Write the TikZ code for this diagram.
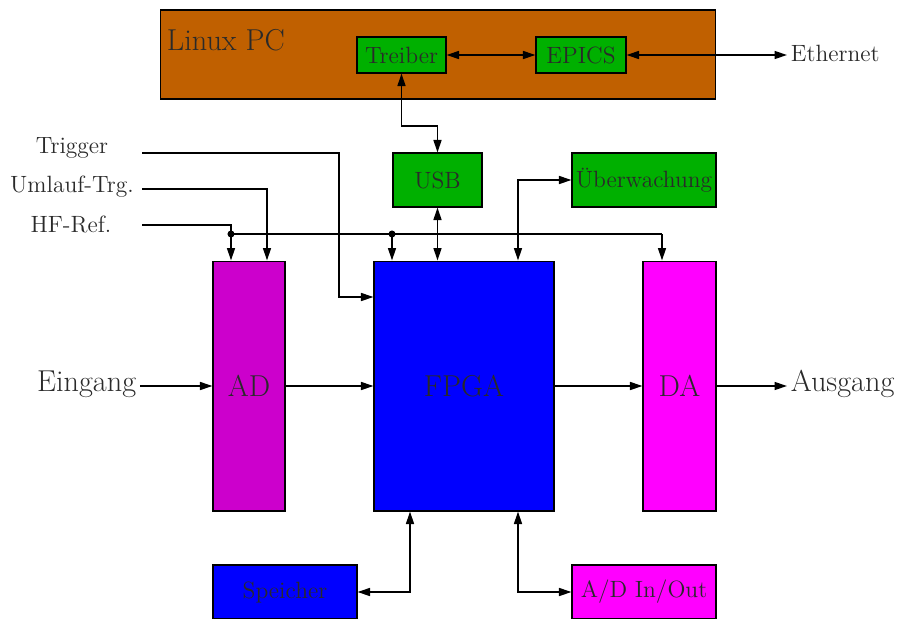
\documentclass[tikz,border=0pt]{standalone}
\usepackage{tikz}
\usetikzlibrary{arrows.meta,positioning,calc}
\definecolor{PCBrown}{HTML}{C06000}
\definecolor{SwGreen}{HTML}{00B000}
\definecolor{AdMag}{HTML}{CC00CC}
\definecolor{DaMag}{HTML}{FF00FF}
\definecolor{FpBlue}{HTML}{0000FF}
\definecolor{TxtGray}{HTML}{2A2A2A}
\newcommand{\bigtxt}{\fontsize{17.2}{20}\selectfont}
\newcommand{\smtxt}{\fontsize{13.4}{16}\selectfont}

\begin{document}
\begin{tikzpicture}[x=0.02cm,y=-0.02cm,
    blk/.style={draw=black,line width=0.6pt,inner sep=0pt,text=TxtGray},
    lbl/.style={text=TxtGray,inner sep=2pt},
    wire/.style={line width=0.8pt,-{Triangle[length=2.5mm,width=1.6mm]}},
    bwire/.style={line width=0.8pt,{Triangle[length=2.5mm,width=1.6mm]}-{Triangle[length=2.5mm,width=1.6mm]}},
    plain/.style={line width=0.8pt}]
  \useasboundingbox (0,0) rectangle (900,619);
  % Linux PC
  \node[blk,fill=PCBrown,minimum width=11.12cm,minimum height=1.78cm] (pc) at (438,54.5) {};
  \node[lbl,anchor=west,font=\bigtxt] (pclbl) at (163,40) {Linux PC};
  \node[blk,fill=SwGreen,minimum width=1.78cm,minimum height=0.72cm,font=\smtxt] (treiber) at (401.5,55) {Treiber};
  \node[blk,fill=SwGreen,minimum width=1.8cm,minimum height=0.72cm,font=\smtxt] (epics) at (581,55) {EPICS};
  \node[lbl,font=\smtxt,anchor=west] (eth) at (787,53) {Ethernet};
  % middle row
  \node[blk,fill=SwGreen,minimum width=1.78cm,minimum height=1.08cm,font=\smtxt] (usb) at (437.5,180) {USB};
  \node[blk,fill=SwGreen,minimum width=2.88cm,minimum height=1.08cm,font=\smtxt] (ueber) at (644,180) {Überwachung};
  \node[lbl,font=\smtxt] (trig) at (72,148) {Trigger};
  \node[lbl,font=\smtxt] (uml) at (72,187) {Umlauf-Trg.};
  \node[lbl,font=\smtxt] (hfref) at (71,224) {HF-Ref.};
  % signal path
  \node[blk,fill=AdMag,minimum width=1.44cm,minimum height=5cm,font=\bigtxt] (ad) at (249,386) {AD};
  \node[blk,fill=FpBlue,minimum width=3.6cm,minimum height=5cm,font=\bigtxt] (fpga) at (464,386) {FPGA\hspace{0.3cm}};
  \node[blk,fill=DaMag,minimum width=1.46cm,minimum height=5cm,font=\bigtxt] (da) at (679.5,386) {DA};
  \node[lbl,font=\bigtxt,anchor=east] (ein) at (140,384) {Eingang};
  \node[lbl,font=\bigtxt,anchor=west] (aus) at (787,384) {Ausgang};
  % bottom row
  \node[blk,fill=FpBlue,minimum width=2.88cm,minimum height=1.08cm,font=\smtxt] (speicher) at (285,592) {Speicher\hspace{0.3cm}};
  \node[blk,fill=DaMag,minimum width=2.88cm,minimum height=1.08cm,font=\smtxt] (adio) at (644,592) {A/D In/Out};
  % junctions and wire ends
  \coordinate (trigin) at (142,153);
  \coordinate (umlin) at (142,189);
  \coordinate (hfin) at (142,225);
  \coordinate (hfa) at (231,234);
  \coordinate (hfb) at (392,234);
  \coordinate (hfc) at (662,234);
  % connectors
  \draw[bwire] (treiber) -- (epics);
  \draw[bwire] (epics) -- (eth.west |- epics);
  \draw[bwire] (treiber.south) -- (treiber.south |- 0,126) -| (usb.north);
  \draw[bwire] (usb.south) -- (usb.south |- fpga.north);
  \draw[bwire] (fpga.north -| 518,0) |- (ueber.west);
  \draw[wire] (trigin) -| (339,297) -- (fpga.west |- 0,297);
  \draw[wire] (umlin) -| (ad.north -| 267,0);
  \draw[plain] (hfin) -| (hfa) -- (hfc);
  \draw[wire] (hfc) -- (da.north -| hfc);
  \draw[wire] (hfa) -- (ad.north -| hfa);
  \draw[wire] (hfb) -- (fpga.north -| hfb);
  \fill (hfa) circle (2pt);
  \fill (hfb) circle (2pt);
  \draw[wire] (ein.east |- ad) -- (ad);
  \draw[wire] (ad) -- (fpga);
  \draw[wire] (fpga) -- (da);
  \draw[wire] (da) -- (aus.west |- da);
  \draw[bwire] (fpga.south -| 410,0) |- (speicher.east);
  \draw[bwire] (fpga.south -| 518,0) |- (adio.west);
\end{tikzpicture}
\end{document}
